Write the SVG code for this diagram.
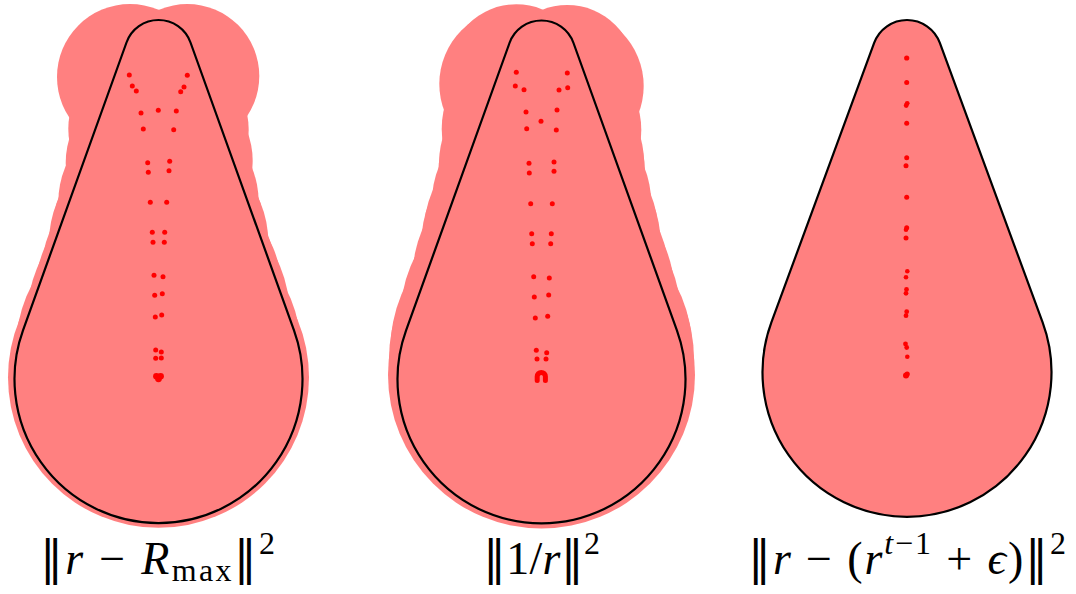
<svg xmlns="http://www.w3.org/2000/svg" width="1076" height="594" viewBox="0 0 1076 594">
<style>
.halo{fill:#ff8080}
.shape{fill:#ff8080;stroke:#000;stroke-width:2.2;stroke-linejoin:round}
.outline{fill:none;stroke:#000;stroke-width:2.2;stroke-linejoin:round}
.dot{fill:#ff0000}
.lbl{font-family:"Liberation Serif","DejaVu Serif",serif;font-size:46px;fill:#000}
.i{font-style:italic}
.sub{font-size:32px}
.bar{font-family:"DejaVu Serif",serif}
</style>
<rect width="1076" height="594" fill="#fff"/>

<g id="panel1">
<g class="halo">
<circle cx="130" cy="77" r="73"/><circle cx="187.3" cy="76" r="72"/>
<circle cx="141" cy="113" r="60"/><circle cx="158.3" cy="110.3" r="60"/><circle cx="176.3" cy="111" r="60"/>
<circle cx="143.3" cy="129" r="75"/><circle cx="173.7" cy="129.7" r="75"/>
<circle cx="147.7" cy="162.7" r="82"/><circle cx="148.3" cy="172" r="82"/><circle cx="169.7" cy="161" r="83"/><circle cx="169" cy="170.7" r="83"/>
<circle cx="150.3" cy="202.3" r="92"/><circle cx="166.7" cy="202.3" r="92"/>
<circle cx="152.3" cy="232.3" r="100"/><circle cx="164.7" cy="232.3" r="100"/>
<circle cx="153" cy="242.3" r="104"/><circle cx="164.3" cy="242.3" r="104"/>
<circle cx="154" cy="275.3" r="113"/><circle cx="163" cy="276.7" r="113"/>
<circle cx="154.7" cy="295.3" r="120"/><circle cx="162.3" cy="293.7" r="120"/>
<circle cx="155.3" cy="317" r="128"/><circle cx="161.7" cy="315" r="128"/>
<circle cx="155.7" cy="350" r="140"/><circle cx="161.3" cy="352" r="140"/><circle cx="155.7" cy="358.3" r="141"/><circle cx="161.3" cy="358" r="141"/>
<circle cx="158.5" cy="377.3" r="150.5"/>
</g>
<path class="outline" d="M126.5 42.5 A34 34 0 0 1 190.5 42.5 L294 330.3 A144 144 0 1 1 23 330.3 Z"/>
<g class="dot">
<circle cx="129.3" cy="75" r="2.5"/><circle cx="132.3" cy="86" r="2.5"/><circle cx="136.3" cy="91" r="2.5"/>
<circle cx="187.3" cy="75.3" r="2.5"/><circle cx="184" cy="87" r="2.5"/><circle cx="180.7" cy="91.7" r="2.5"/>
<circle cx="141" cy="113" r="2.5"/><circle cx="158.3" cy="110.3" r="2.5"/><circle cx="176.3" cy="111" r="2.5"/>
<circle cx="143.3" cy="129" r="2.5"/><circle cx="173.7" cy="129.7" r="2.5"/>
<circle cx="147.7" cy="162.7" r="2.5"/><circle cx="169.7" cy="161.3" r="2.5"/><circle cx="148.3" cy="172.3" r="2.5"/><circle cx="169" cy="170.7" r="2.5"/>
<circle cx="150.3" cy="202.3" r="2.5"/><circle cx="166.7" cy="202.3" r="2.5"/>
<circle cx="152.3" cy="232.3" r="2.5"/><circle cx="164.7" cy="232.3" r="2.5"/><circle cx="153" cy="242.3" r="2.5"/><circle cx="164.3" cy="242.3" r="2.5"/>
<circle cx="154" cy="275.3" r="2.5"/><circle cx="163" cy="276.7" r="2.5"/><circle cx="154.7" cy="295.3" r="2.5"/><circle cx="162.3" cy="293.7" r="2.5"/>
<circle cx="155.3" cy="317" r="2.5"/><circle cx="161.7" cy="315" r="2.5"/>
<circle cx="155.7" cy="350" r="2.5"/><circle cx="161.3" cy="352" r="2.5"/><circle cx="155.7" cy="358.3" r="2.5"/><circle cx="161.3" cy="358" r="2.5"/>
<circle cx="156.4" cy="376.3" r="3.3"/><circle cx="160.6" cy="376.3" r="3.3"/><circle cx="158.5" cy="378.8" r="3.4"/>
</g>
<text class="lbl" x="157.5" y="574" text-anchor="middle" textLength="235" lengthAdjust="spacing"><tspan class="bar">‖</tspan><tspan class="i">r</tspan> − <tspan class="i">R</tspan><tspan class="sub" dy="7">max</tspan><tspan class="bar" dy="-7">‖</tspan><tspan class="sub" dy="-20">2</tspan></text>
</g>

<g id="panel2">
<g class="halo">
<circle cx="516.3" cy="72.3" r="68"/><circle cx="515.3" cy="84" r="76"/><circle cx="524" cy="89.7" r="70"/>
<circle cx="567.3" cy="73" r="68"/><circle cx="567.7" cy="86" r="76"/><circle cx="559" cy="90" r="70"/>
<circle cx="526" cy="112" r="80"/><circle cx="541" cy="121.3" r="80"/><circle cx="557" cy="110" r="80"/>
<circle cx="526.7" cy="128.7" r="85"/><circle cx="556.3" cy="130" r="85"/>
<circle cx="529" cy="163.3" r="90"/><circle cx="529.3" cy="173" r="91"/><circle cx="554" cy="162" r="90"/><circle cx="554" cy="171.3" r="91"/>
<circle cx="530.7" cy="203.7" r="99"/><circle cx="552.3" cy="203.7" r="99"/>
<circle cx="531.7" cy="233.7" r="108"/><circle cx="532.3" cy="243.7" r="111"/><circle cx="551.3" cy="233.7" r="107"/><circle cx="550.7" cy="243.7" r="110"/>
<circle cx="533.7" cy="276.7" r="121"/><circle cx="534.3" cy="297" r="126"/><circle cx="549.3" cy="278" r="120"/><circle cx="548.7" cy="295" r="126"/>
<circle cx="535.3" cy="318" r="135"/><circle cx="547.7" cy="316.3" r="133"/>
<circle cx="536.3" cy="350.3" r="146"/><circle cx="546.7" cy="352.7" r="146"/><circle cx="537" cy="359" r="148"/><circle cx="546" cy="359" r="148"/>
<circle cx="541.5" cy="375" r="153.5"/>
</g>
<path class="outline" d="M509.5 43 A34 34 0 0 1 573.5 43 L677 330.6 A144 144 0 1 1 406 330.6 Z"/>
<g class="dot">
<circle cx="516.3" cy="72.3" r="2.5"/><circle cx="515.3" cy="86" r="2.5"/><circle cx="524" cy="89.7" r="2.5"/>
<circle cx="567.3" cy="73" r="2.5"/><circle cx="567.7" cy="87.7" r="2.5"/><circle cx="559" cy="90" r="2.5"/>
<circle cx="526" cy="112" r="2.5"/><circle cx="541" cy="121.3" r="2.5"/><circle cx="557" cy="110" r="2.5"/>
<circle cx="526.7" cy="128.7" r="2.5"/><circle cx="556.3" cy="130" r="2.5"/>
<circle cx="529" cy="163.3" r="2.5"/><circle cx="554" cy="162" r="2.5"/><circle cx="529.3" cy="173" r="2.5"/><circle cx="554" cy="171.3" r="2.5"/>
<circle cx="530.7" cy="203.7" r="2.5"/><circle cx="552.3" cy="203.7" r="2.5"/>
<circle cx="531.7" cy="233.7" r="2.5"/><circle cx="551.3" cy="233.7" r="2.5"/><circle cx="532.3" cy="243.7" r="2.5"/><circle cx="550.7" cy="243.7" r="2.5"/>
<circle cx="533.7" cy="276.7" r="2.5"/><circle cx="549.3" cy="278" r="2.5"/><circle cx="534.3" cy="297" r="2.5"/><circle cx="548.7" cy="295" r="2.5"/>
<circle cx="535.3" cy="318" r="2.5"/><circle cx="547.7" cy="316.3" r="2.5"/>
<circle cx="536.3" cy="350.3" r="2.5"/><circle cx="546.7" cy="352.7" r="2.5"/><circle cx="537" cy="359" r="2.5"/><circle cx="546" cy="359" r="2.5"/>
<path d="M537.2 380.5 L537.2 376.5 A4.1 4.1 0 0 1 545.4 376.5 L545.4 380.5" fill="none" stroke="#ff0000" stroke-width="5" stroke-linecap="round"/>
</g>
<text class="lbl" x="541.5" y="574" text-anchor="middle" textLength="117" lengthAdjust="spacing"><tspan class="bar">‖</tspan>1/<tspan class="i">r</tspan><tspan class="bar">‖</tspan><tspan class="sub" dy="-20">2</tspan></text>
</g>

<g id="panel3">
<path class="shape" d="M874.15 42.92 A35 35 0 0 1 939.85 42.92 L1042.63 322.43 A144.5 144.5 0 1 1 771.37 322.43 Z"/>
<g class="dot">
<circle cx="906.7" cy="58" r="2.6"/><circle cx="906.7" cy="82.5" r="2.5"/>
<circle cx="907.2" cy="103.3" r="2.4"/><circle cx="906.2" cy="105.5" r="2.4"/>
<circle cx="906.7" cy="123.3" r="2.5"/>
<circle cx="906.7" cy="157.7" r="2.5"/><circle cx="906" cy="165.7" r="2.5"/>
<circle cx="906.7" cy="197.3" r="2.5"/>
<circle cx="906.7" cy="227.7" r="2.5"/><circle cx="906" cy="229.7" r="2.3"/><circle cx="906" cy="238" r="2.5"/>
<circle cx="907.3" cy="271.3" r="2.3"/><circle cx="906" cy="277.3" r="2.3"/>
<circle cx="906.5" cy="289.5" r="2.4"/><circle cx="906" cy="293.3" r="2.4"/>
<circle cx="906.7" cy="311.7" r="2.4"/><circle cx="906" cy="315.7" r="2.4"/>
<circle cx="905.5" cy="344" r="2.4"/><circle cx="906.7" cy="347.5" r="2.4"/><circle cx="907.3" cy="356.7" r="2.3"/>
<circle cx="906" cy="375.5" r="3"/><circle cx="907.2" cy="374" r="2.6"/>
</g>
<text class="lbl" x="907" y="574" text-anchor="middle" textLength="318" lengthAdjust="spacing"><tspan class="bar">‖</tspan><tspan class="i">r</tspan> − (<tspan class="i">r</tspan><tspan class="sub" dy="-20"><tspan class="i">t</tspan>−1</tspan><tspan dy="20"> + </tspan><tspan class="i">ϵ</tspan>)<tspan class="bar">‖</tspan><tspan class="sub" dy="-20">2</tspan></text>
</g>
</svg>
